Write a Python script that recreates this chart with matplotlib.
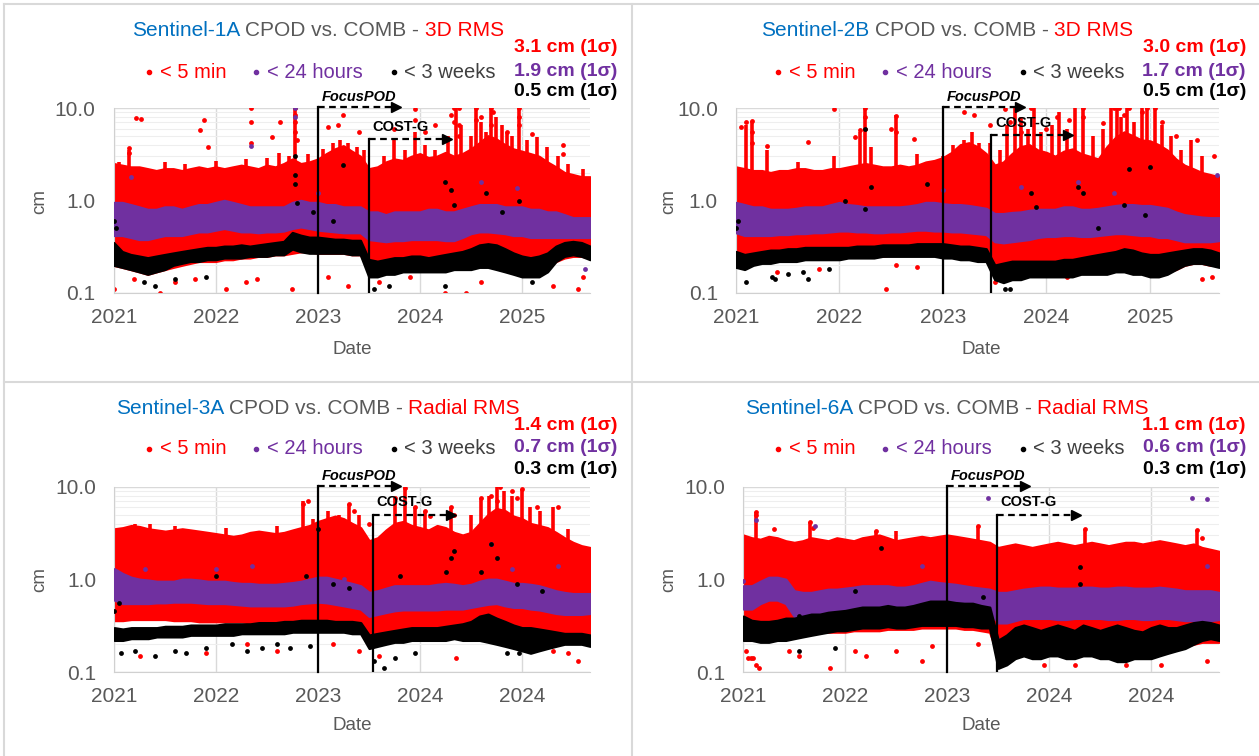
import numpy as np
import matplotlib.pyplot as plt
from matplotlib.lines import Line2D

plt.rcParams['font.family'] = ['Liberation Sans', 'DejaVu Sans']

W, H = 1259, 756
RED, PURPLE, BLACK = '#FF0000', '#7030A0', '#000000'
BLUE, GREY = '#0070C0', '#595959'

# monthly sample dates, Jan 2021 .. Sep 2025 (decimal years)
months = 2021 + np.arange(57) / 12

# ---------------- Sentinel-1A (3D RMS) ----------------
s1a_red_hi = [2.5, 2.4, 2.3, 2.3, 2.2, 2.1, 2.2, 2.2, 2.1, 2.2, 2.3, 2.2,
              2.3, 2.2, 2.3, 2.4, 2.3, 2.2, 2.4, 2.3, 2.5, 2.8, 2.5, 2.6,
              2.8, 3.2, 3.6, 3.9, 3.4, 3.0, 2.2, 2.3, 2.6, 2.8, 2.7, 3.0,
              3.2, 2.9, 3.0, 3.3, 3.0, 3.2, 3.6, 4.2, 5.0, 4.6, 4.0, 3.6,
              3.4, 3.2, 3.0, 2.6, 2.3, 2.0, 1.9, 1.8, 1.8]
s1a_red_lo = [0.20, 0.19, 0.18, 0.17, 0.16, 0.17, 0.18, 0.19, 0.20, 0.21, 0.22, 0.22,
              0.22, 0.23, 0.23, 0.24, 0.24, 0.25, 0.25, 0.26, 0.26, 0.27, 0.28, 0.28,
              0.27, 0.27, 0.27, 0.27, 0.26, 0.26, 0.18, 0.17, 0.17, 0.18, 0.18, 0.19,
              0.19, 0.19, 0.20, 0.20, 0.20, 0.20, 0.21, 0.21, 0.20, 0.20, 0.19, 0.18,
              0.17, 0.17, 0.18, 0.19, 0.22, 0.24, 0.25, 0.25, 0.24]
s1a_pur_hi = [0.95, 0.95, 0.90, 0.85, 0.80, 0.80, 0.85, 0.85, 0.80, 0.85, 0.90, 0.90,
              0.95, 1.00, 0.95, 0.90, 0.85, 0.85, 0.85, 0.85, 0.85, 0.95, 1.00, 0.95,
              0.95, 0.90, 0.90, 0.85, 0.85, 0.85, 0.75, 0.75, 0.70, 0.75, 0.75, 0.75,
              0.75, 0.80, 0.80, 0.75, 0.75, 0.80, 0.85, 0.90, 0.90, 0.90, 0.85, 0.85,
              0.85, 0.80, 0.80, 0.75, 0.75, 0.70, 0.65, 0.65, 0.65]
s1a_pur_lo = [0.42, 0.42, 0.40, 0.38, 0.38, 0.40, 0.42, 0.42, 0.42, 0.44, 0.46, 0.46,
              0.48, 0.50, 0.48, 0.46, 0.46, 0.45, 0.46, 0.46, 0.47, 0.50, 0.52, 0.50,
              0.48, 0.47, 0.46, 0.45, 0.45, 0.45, 0.38, 0.37, 0.36, 0.37, 0.37, 0.38,
              0.38, 0.38, 0.38, 0.37, 0.37, 0.40, 0.44, 0.46, 0.46, 0.45, 0.44, 0.42,
              0.42, 0.40, 0.40, 0.40, 0.40, 0.40, 0.40, 0.40, 0.40]
s1a_blk_hi = [0.35, 0.28, 0.26, 0.25, 0.24, 0.25, 0.26, 0.27, 0.28, 0.29, 0.30, 0.31,
              0.31, 0.32, 0.32, 0.33, 0.32, 0.33, 0.34, 0.35, 0.36, 0.45, 0.42, 0.40,
              0.40, 0.39, 0.38, 0.38, 0.37, 0.37, 0.23, 0.22, 0.23, 0.24, 0.24, 0.25,
              0.25, 0.24, 0.25, 0.26, 0.27, 0.28, 0.30, 0.33, 0.34, 0.33, 0.30, 0.27,
              0.25, 0.24, 0.25, 0.27, 0.32, 0.35, 0.36, 0.35, 0.32]
s1a_blk_lo = [0.20, 0.19, 0.18, 0.17, 0.16, 0.17, 0.18, 0.20, 0.21, 0.22, 0.22, 0.23,
              0.23, 0.24, 0.24, 0.24, 0.25, 0.25, 0.25, 0.26, 0.26, 0.30, 0.28, 0.27,
              0.27, 0.27, 0.27, 0.27, 0.26, 0.26, 0.15, 0.15, 0.16, 0.16, 0.17, 0.17,
              0.17, 0.17, 0.17, 0.17, 0.18, 0.18, 0.18, 0.19, 0.19, 0.18, 0.17, 0.16,
              0.15, 0.15, 0.15, 0.17, 0.22, 0.25, 0.26, 0.25, 0.23]
s1a_spike_x = [2021.05, 2021.15, 2021.50, 2021.70, 2022.00, 2022.30, 2022.50, 2022.62, 2022.72, 2022.78,
               2022.90, 2023.05, 2023.15, 2023.22, 2023.30, 2023.38, 2023.45, 2023.65, 2023.75, 2023.85,
               2023.95, 2024.05, 2024.15, 2024.28, 2024.35, 2024.40, 2024.50, 2024.55, 2024.60, 2024.65,
               2024.70, 2024.75, 2024.80, 2024.85, 2024.90, 2024.97, 2025.05, 2025.15, 2025.25, 2025.35,
               2025.45, 2025.60]
s1a_spike_y = [2.6, 3.5, 2.6, 2.5, 2.7, 2.8, 2.9, 3.3, 3.0, 10.0,
               3.2, 3.6, 4.2, 4.5, 4.2, 3.8, 3.5, 3.0, 4.5, 3.5,
               5.5, 4.0, 3.5, 5.0, 10.0, 6.5, 5.0, 10.0, 7.0, 5.5,
               10.0, 8.0, 6.5, 5.5, 5.0, 10.0, 4.5, 4.8, 3.8, 3.0,
               2.5, 2.2]
s1a_red_ox = [2021.22, 2021.27, 2021.15, 2021.15, 2021.85, 2021.88, 2021.92, 2022.35, 2022.35, 2022.35,
              2022.55, 2022.63, 2022.78, 2022.78, 2022.78, 2022.78, 2022.80, 2023.10, 2023.20, 2023.25,
              2023.40, 2023.75, 2023.95, 2023.95, 2024.05, 2024.15, 2024.30, 2024.33, 2024.33, 2024.38,
              2024.38, 2024.38, 2024.55, 2024.55, 2024.60, 2024.70, 2024.70, 2024.72, 2024.85, 2024.97,
              2024.97, 2024.97, 2025.10, 2025.40, 2025.40,
              2021.00, 2021.20, 2021.45, 2021.60, 2021.80, 2022.10, 2022.30, 2022.40, 2022.75, 2023.10,
              2023.30, 2023.60, 2023.90, 2024.25, 2024.45, 2024.60, 2025.30, 2025.55, 2025.60]
s1a_red_oy = [7.8, 7.6, 3.7, 3.3, 5.8, 7.4, 3.8, 10.0, 7.0, 4.2,
              4.8, 7.0, 10.0, 8.5, 7.0, 5.5, 4.5, 6.2, 6.5, 8.3,
              5.5, 6.0, 9.8, 7.5, 5.5, 6.5, 8.5, 10.0, 7.0, 10.0,
              6.5, 5.0, 10.0, 7.5, 8.0, 10.0, 6.5, 9.0, 5.5, 10.0,
              8.0, 6.5, 5.2, 4.0, 3.2,
              0.11, 0.14, 0.10, 0.13, 0.14, 0.11, 0.13, 0.14, 0.11, 0.15,
              0.12, 0.13, 0.15, 0.10, 0.10, 0.13, 0.12, 0.11, 0.15]
s1a_pur_ox = [2021.17, 2022.35, 2022.78, 2022.78, 2023.00, 2024.60, 2024.95, 2025.62]
s1a_pur_oy = [1.8, 3.9, 10.0, 8.0, 1.2, 1.6, 1.35, 0.18]
s1a_blk_ox = [2021.00, 2021.02, 2022.78, 2022.78, 2022.78, 2022.80, 2022.95, 2023.15, 2023.25, 2024.25,
              2024.30, 2024.33, 2024.65, 2024.80, 2024.97, 2021.30, 2021.40, 2021.60, 2021.90, 2023.55,
              2023.70, 2024.25, 2025.10]
s1a_blk_oy = [0.6, 0.5, 3.0, 1.9, 1.5, 0.95, 0.75, 0.6, 2.4, 1.6,
              1.3, 0.9, 1.2, 0.75, 1.0, 0.13, 0.12, 0.14, 0.15, 0.11,
              0.12, 0.12, 0.13]

# ---------------- Sentinel-2B (3D RMS) ----------------
s2b_red_hi = [2.3, 2.2, 2.1, 2.1, 2.0, 2.1, 2.1, 2.2, 2.2, 2.1, 2.1, 2.2,
              2.2, 2.3, 2.4, 2.5, 2.4, 2.3, 2.3, 2.4, 2.3, 2.4, 2.6, 2.7,
              2.9, 3.3, 4.0, 4.2, 3.8, 3.2, 2.4, 2.6, 3.2, 3.8, 4.0, 3.5,
              3.3, 3.0, 3.4, 3.6, 3.2, 3.0, 2.8, 3.8, 4.8, 5.5, 5.0, 4.5,
              4.4, 4.0, 3.5, 2.8, 2.4, 2.2, 2.0, 1.9, 1.8]
s2b_red_lo = [0.22, 0.22, 0.23, 0.23, 0.23, 0.24, 0.24, 0.24, 0.24, 0.24, 0.25, 0.25,
              0.25, 0.25, 0.25, 0.25, 0.25, 0.25, 0.26, 0.26, 0.26, 0.26, 0.26, 0.26,
              0.25, 0.25, 0.24, 0.24, 0.24, 0.23, 0.17, 0.16, 0.17, 0.17, 0.17, 0.17,
              0.17, 0.17, 0.17, 0.18, 0.18, 0.18, 0.18, 0.19, 0.19, 0.19, 0.18, 0.18,
              0.17, 0.17, 0.17, 0.18, 0.20, 0.21, 0.21, 0.20, 0.20]
s2b_pur_hi = [0.95, 0.90, 0.85, 0.85, 0.80, 0.80, 0.80, 0.82, 0.85, 0.85, 0.85, 0.90,
              0.95, 0.90, 0.88, 0.85, 0.85, 0.85, 0.85, 0.85, 0.87, 0.90, 0.95, 0.95,
              0.92, 0.90, 0.90, 0.88, 0.85, 0.82, 0.72, 0.72, 0.74, 0.75, 0.78, 0.80,
              0.80, 0.80, 0.85, 0.85, 0.80, 0.80, 0.82, 0.85, 0.88, 0.90, 0.90, 0.88,
              0.88, 0.85, 0.82, 0.75, 0.70, 0.68, 0.66, 0.65, 0.65]
s2b_pur_lo = [0.45, 0.42, 0.42, 0.42, 0.42, 0.43, 0.43, 0.44, 0.44, 0.45, 0.45, 0.46,
              0.47, 0.47, 0.46, 0.46, 0.45, 0.45, 0.46, 0.46, 0.47, 0.48, 0.48, 0.47,
              0.47, 0.46, 0.46, 0.45, 0.44, 0.43, 0.36, 0.35, 0.36, 0.37, 0.38, 0.40,
              0.41, 0.41, 0.42, 0.42, 0.41, 0.41, 0.42, 0.43, 0.44, 0.44, 0.43, 0.42,
              0.42, 0.40, 0.40, 0.38, 0.36, 0.36, 0.36, 0.36, 0.37]
s2b_blk_hi = [0.28, 0.26, 0.27, 0.28, 0.29, 0.29, 0.30, 0.30, 0.31, 0.31, 0.31, 0.31,
              0.31, 0.31, 0.32, 0.32, 0.32, 0.33, 0.33, 0.33, 0.33, 0.34, 0.34, 0.34,
              0.34, 0.33, 0.32, 0.32, 0.31, 0.30, 0.20, 0.21, 0.22, 0.22, 0.22, 0.22,
              0.22, 0.22, 0.23, 0.23, 0.24, 0.25, 0.26, 0.27, 0.28, 0.30, 0.29, 0.27,
              0.26, 0.26, 0.27, 0.28, 0.29, 0.30, 0.30, 0.29, 0.27]
s2b_blk_lo = [0.19, 0.18, 0.20, 0.21, 0.21, 0.22, 0.22, 0.22, 0.23, 0.23, 0.23, 0.23,
              0.23, 0.24, 0.24, 0.24, 0.24, 0.25, 0.25, 0.25, 0.25, 0.25, 0.25, 0.25,
              0.24, 0.24, 0.23, 0.23, 0.22, 0.22, 0.14, 0.13, 0.14, 0.14, 0.15, 0.15,
              0.15, 0.15, 0.15, 0.15, 0.16, 0.16, 0.16, 0.16, 0.17, 0.17, 0.16, 0.16,
              0.15, 0.15, 0.16, 0.18, 0.20, 0.21, 0.21, 0.20, 0.19]
s2b_spike_x = [2021.10, 2021.15, 2021.30, 2021.60, 2021.95, 2022.20, 2022.25, 2022.30, 2022.55, 2022.75,
               2023.00, 2023.10, 2023.20, 2023.28, 2023.35, 2023.45, 2023.55, 2023.62, 2023.70, 2023.75,
               2023.82, 2023.88, 2023.95, 2024.05, 2024.12, 2024.20, 2024.28, 2024.35, 2024.45, 2024.55,
               2024.62, 2024.68, 2024.72, 2024.78, 2024.85, 2024.92, 2024.97, 2025.05, 2025.12, 2025.20,
               2025.30, 2025.40, 2025.50]
s2b_spike_y = [6.5, 7.3, 3.5, 2.6, 3.0, 5.5, 10.0, 3.8, 8.5, 3.2,
               3.0, 4.0, 4.5, 5.5, 4.2, 4.2, 3.5, 6.5, 10.0, 8.0,
               6.0, 10.0, 5.5, 6.5, 9.0, 6.0, 10.0, 10.0, 5.0, 6.0,
               10.0, 10.0, 8.0, 10.0, 7.0, 10.0, 10.0, 10.0, 6.5, 5.0,
               3.5, 4.5, 3.0]
s2b_red_ox = [2021.05, 2021.10, 2021.15, 2021.15, 2021.15, 2021.30, 2021.70, 2021.95, 2022.15, 2022.20,
              2022.25, 2022.25, 2022.25, 2022.50, 2022.55, 2022.55, 2022.72, 2023.20, 2023.30, 2023.45,
              2023.60, 2023.65, 2023.75, 2023.85, 2024.00, 2024.10, 2024.22, 2024.35, 2024.35, 2024.55,
              2024.65, 2024.70, 2024.75, 2024.80, 2024.92, 2024.97, 2025.05, 2025.12, 2025.25, 2025.45,
              2025.62,
              2021.00, 2021.40, 2021.80, 2022.45, 2022.55, 2022.75, 2023.50, 2024.20, 2025.05, 2025.50,
              2025.60]
s2b_red_oy = [6.2, 7.0, 7.3, 5.5, 4.2, 3.9, 4.3, 9.8, 4.8, 5.8,
              10.0, 8.0, 6.0, 6.0, 8.2, 5.5, 4.6, 9.0, 8.5, 6.5,
              9.8, 7.0, 5.5, 10.0, 6.0, 8.0, 7.5, 10.0, 8.0, 6.8,
              10.0, 10.0, 8.5, 10.0, 9.0, 10.0, 10.0, 7.0, 5.0, 4.5,
              3.0,
              0.25, 0.17, 0.18, 0.11, 0.20, 0.19, 0.13, 0.15, 0.16, 0.14,
              0.15]
s2b_pur_ox = [2023.00, 2023.75, 2024.30, 2024.65, 2025.65]
s2b_pur_oy = [1.3, 1.4, 1.6, 1.2, 1.9]
s2b_blk_ox = [2021.00, 2021.02, 2021.10, 2021.35, 2021.38, 2021.50, 2021.65, 2021.70, 2021.90, 2022.05,
              2022.25, 2022.25, 2022.30, 2022.85, 2023.60, 2023.65, 2023.85, 2023.90, 2024.30, 2024.35,
              2024.50, 2024.75, 2024.80, 2024.95, 2025.00]
s2b_blk_oy = [0.5, 0.6, 0.13, 0.15, 0.14, 0.16, 0.17, 0.14, 0.18, 1.0,
              6.0, 0.8, 1.4, 1.5, 0.11, 0.11, 1.2, 0.85, 1.4, 1.2,
              0.5, 0.9, 2.2, 0.7, 2.3]

# ---------------- Sentinel-3A (Radial RMS) ----------------
s3a_red_hi = [3.5, 3.6, 3.8, 3.7, 3.5, 3.4, 3.3, 3.4, 3.5, 3.4, 3.3, 3.2,
              3.1, 3.0, 2.9, 3.0, 3.2, 3.3, 3.2, 3.1, 3.2, 3.4, 3.6, 3.8,
              4.2, 4.5, 4.8, 4.5, 4.0, 3.6, 2.6, 2.8, 3.4, 4.0, 4.2, 3.8,
              3.6, 3.4, 3.8, 3.6, 3.2, 3.0, 3.2, 4.0, 5.0, 5.8, 5.5, 4.8,
              4.5, 4.0, 3.8, 3.6, 3.2, 2.8, 2.5, 2.3, 2.2]
s3a_red_lo = [0.36, 0.36, 0.37, 0.37, 0.37, 0.37, 0.37, 0.36, 0.36, 0.36, 0.35, 0.35,
              0.35, 0.35, 0.35, 0.35, 0.34, 0.34, 0.34, 0.34, 0.33, 0.33, 0.33, 0.33,
              0.33, 0.32, 0.32, 0.32, 0.32, 0.32, 0.22, 0.22, 0.23, 0.24, 0.25, 0.25,
              0.26, 0.26, 0.26, 0.26, 0.26, 0.25, 0.25, 0.25, 0.26, 0.26, 0.25, 0.24,
              0.23, 0.22, 0.21, 0.20, 0.20, 0.21, 0.22, 0.22, 0.21]
s3a_pur_hi = [1.30, 1.15, 1.05, 1.00, 0.98, 0.95, 0.95, 0.95, 1.00, 1.00, 0.98, 0.95,
              0.95, 0.95, 0.92, 0.90, 0.90, 0.88, 0.88, 0.88, 0.90, 0.92, 0.95, 1.00,
              1.05, 1.05, 1.00, 0.95, 0.90, 0.85, 0.72, 0.75, 0.80, 0.85, 0.85, 0.85,
              0.85, 0.85, 0.88, 0.90, 0.88, 0.85, 0.88, 0.95, 1.00, 1.00, 0.95, 0.90,
              0.90, 0.88, 0.85, 0.80, 0.75, 0.72, 0.70, 0.70, 0.70]
s3a_pur_lo = [0.60, 0.55, 0.55, 0.55, 0.55, 0.56, 0.56, 0.57, 0.57, 0.57, 0.56, 0.55,
              0.55, 0.55, 0.54, 0.53, 0.52, 0.52, 0.52, 0.52, 0.52, 0.53, 0.55, 0.56,
              0.57, 0.56, 0.54, 0.52, 0.50, 0.48, 0.40, 0.42, 0.44, 0.46, 0.47, 0.47,
              0.47, 0.47, 0.47, 0.48, 0.48, 0.48, 0.50, 0.52, 0.54, 0.55, 0.52, 0.50,
              0.50, 0.48, 0.47, 0.45, 0.43, 0.42, 0.42, 0.42, 0.43]
s3a_blk_hi = [0.30, 0.29, 0.30, 0.30, 0.30, 0.30, 0.31, 0.31, 0.31, 0.32, 0.32, 0.32,
              0.32, 0.33, 0.33, 0.33, 0.33, 0.34, 0.34, 0.34, 0.35, 0.35, 0.36, 0.36,
              0.36, 0.36, 0.35, 0.35, 0.35, 0.34, 0.25, 0.26, 0.27, 0.28, 0.29, 0.30,
              0.30, 0.30, 0.30, 0.31, 0.32, 0.33, 0.35, 0.40, 0.42, 0.38, 0.35, 0.32,
              0.30, 0.30, 0.29, 0.28, 0.27, 0.26, 0.26, 0.26, 0.25]
s3a_blk_lo = [0.22, 0.22, 0.23, 0.23, 0.23, 0.24, 0.24, 0.24, 0.24, 0.25, 0.25, 0.25,
              0.25, 0.25, 0.25, 0.26, 0.26, 0.26, 0.26, 0.26, 0.26, 0.27, 0.27, 0.27,
              0.27, 0.27, 0.27, 0.27, 0.26, 0.26, 0.18, 0.19, 0.20, 0.21, 0.21, 0.22,
              0.22, 0.22, 0.22, 0.22, 0.23, 0.22, 0.22, 0.22, 0.21, 0.20, 0.19, 0.18,
              0.17, 0.16, 0.17, 0.18, 0.19, 0.20, 0.20, 0.20, 0.19]
s3a_spike_x = [2021.20, 2021.35, 2021.60, 2022.10, 2022.60, 2022.85, 2022.95, 2023.10, 2023.20, 2023.30,
               2023.40, 2023.75, 2023.85, 2023.95, 2024.05, 2024.30, 2024.50, 2024.60, 2024.68, 2024.75,
               2024.82, 2024.90, 2025.00, 2025.08, 2025.18, 2025.30, 2025.45]
s3a_spike_y = [4.0, 4.0, 3.8, 3.6, 3.8, 7.0, 4.5, 5.5, 5.0, 6.5,
               5.0, 7.5, 10.0, 6.0, 5.5, 6.0, 5.0, 7.5, 8.0, 10.0,
               9.0, 8.0, 9.5, 6.0, 5.5, 6.0, 3.5]
s3a_red_ox = [2022.85, 2022.90, 2023.00, 2023.30, 2023.35, 2023.50, 2023.75, 2023.85, 2023.95, 2024.05,
              2024.10, 2024.30, 2024.33, 2024.60, 2024.70, 2024.75, 2024.78, 2024.90, 2024.95, 2025.00,
              2025.15, 2025.35,
              2021.05, 2021.25, 2021.90, 2022.30, 2022.60, 2023.15, 2023.40, 2023.60, 2024.35, 2025.30,
              2025.45, 2025.55]
s3a_red_oy = [6.5, 7.0, 3.8, 6.5, 5.5, 4.0, 7.5, 9.8, 6.0, 5.5,
              4.8, 6.0, 5.0, 7.5, 8.0, 7.0, 10.0, 9.0, 7.5, 9.5,
              6.0, 6.0,
              0.5, 0.15, 0.16, 0.20, 0.17, 0.20, 0.17, 0.15, 0.14, 0.17,
              0.16, 0.13]
s3a_pur_ox = [2021.30, 2022.00, 2022.35, 2023.25, 2024.70, 2024.90, 2025.35]
s3a_pur_oy = [1.3, 1.3, 1.4, 1.0, 2.4, 1.3, 1.4]
s3a_blk_ox = [2021.00, 2021.05, 2021.07, 2021.20, 2021.40, 2021.60, 2021.70, 2021.90, 2022.00, 2022.15,
              2022.30, 2022.45, 2022.60, 2022.72, 2022.88, 2022.92, 2023.00, 2023.15, 2023.30, 2023.55,
              2023.65, 2023.75, 2023.80, 2023.95, 2024.25, 2024.30, 2024.33, 2024.60, 2024.70, 2024.75,
              2024.95, 2025.20, 2024.85, 2024.97]
s3a_blk_oy = [0.45, 0.55, 0.16, 0.17, 0.15, 0.17, 0.16, 0.18, 1.1, 0.20,
              0.17, 0.18, 0.20, 0.18, 1.1, 0.19, 3.5, 0.9, 0.8, 0.13,
              0.11, 0.14, 1.1, 0.16, 1.2, 1.7, 2.0, 1.2, 2.4, 1.7,
              0.9, 0.75, 0.16, 0.16]

# ---------------- Sentinel-6A (Radial RMS) ----------------
s6a_red_hi = [3.0, 2.8, 2.7, 2.9, 2.8, 2.6, 2.5, 2.6, 2.8, 2.7, 2.6, 2.8,
              2.7, 2.6, 2.8, 2.9, 3.0, 2.8, 2.6, 2.7, 2.8, 2.9, 2.8, 2.9,
              3.0, 2.9, 2.8, 2.7, 2.6, 2.5, 2.2, 2.3, 2.4, 2.3, 2.2, 2.3,
              2.4, 2.5, 2.4, 2.3, 2.4, 2.5, 2.4, 2.3, 2.4, 2.5, 2.5, 2.4,
              2.5, 2.6, 2.5, 2.4, 2.3, 2.4, 2.2, 2.1, 2.0]
s6a_red_lo = [0.22, 0.22, 0.23, 0.24, 0.25, 0.25, 0.26, 0.26, 0.26, 0.27, 0.27, 0.27,
              0.27, 0.28, 0.28, 0.28, 0.28, 0.29, 0.29, 0.29, 0.29, 0.30, 0.30, 0.30,
              0.30, 0.30, 0.29, 0.29, 0.28, 0.27, 0.15, 0.16, 0.17, 0.17, 0.17, 0.17,
              0.17, 0.17, 0.17, 0.17, 0.17, 0.17, 0.17, 0.17, 0.17, 0.17, 0.17, 0.17,
              0.17, 0.17, 0.18, 0.18, 0.19, 0.20, 0.21, 0.21, 0.21]
s6a_pur_hi = [0.85, 0.85, 0.95, 1.05, 1.05, 1.00, 0.75, 0.72, 0.72, 0.75, 0.78, 0.78,
              0.80, 0.82, 0.85, 0.85, 0.85, 0.85, 0.82, 0.82, 0.85, 0.90, 0.95, 0.92,
              0.90, 0.88, 0.85, 0.82, 0.80, 0.78, 0.72, 0.72, 0.75, 0.78, 0.80, 0.82,
              0.82, 0.80, 0.80, 0.80, 0.82, 0.82, 0.80, 0.80, 0.82, 0.82, 0.80, 0.80,
              0.80, 0.82, 0.80, 0.78, 0.75, 0.75, 0.75, 0.75, 0.72]
s6a_pur_lo = [0.48, 0.48, 0.55, 0.60, 0.60, 0.55, 0.40, 0.38, 0.38, 0.40, 0.42, 0.44,
              0.45, 0.46, 0.47, 0.48, 0.48, 0.48, 0.48, 0.48, 0.50, 0.52, 0.52, 0.50,
              0.50, 0.50, 0.48, 0.47, 0.46, 0.45, 0.34, 0.34, 0.36, 0.38, 0.38, 0.38,
              0.38, 0.37, 0.37, 0.38, 0.38, 0.38, 0.38, 0.37, 0.37, 0.38, 0.38, 0.37,
              0.37, 0.38, 0.38, 0.37, 0.36, 0.36, 0.36, 0.36, 0.37]
s6a_blk_hi = [0.40, 0.36, 0.35, 0.35, 0.36, 0.38, 0.38, 0.40, 0.42, 0.42, 0.44, 0.45,
              0.46, 0.48, 0.50, 0.50, 0.50, 0.52, 0.50, 0.50, 0.52, 0.55, 0.58, 0.58,
              0.58, 0.56, 0.55, 0.55, 0.52, 0.50, 0.22, 0.25, 0.30, 0.32, 0.30, 0.28,
              0.30, 0.32, 0.30, 0.28, 0.32, 0.30, 0.28, 0.30, 0.32, 0.30, 0.28, 0.27,
              0.30, 0.32, 0.30, 0.30, 0.32, 0.34, 0.35, 0.34, 0.32]
s6a_blk_lo = [0.22, 0.22, 0.21, 0.21, 0.22, 0.22, 0.23, 0.24, 0.25, 0.26, 0.27, 0.28,
              0.28, 0.29, 0.30, 0.30, 0.30, 0.31, 0.30, 0.30, 0.31, 0.32, 0.32, 0.32,
              0.32, 0.32, 0.31, 0.31, 0.30, 0.30, 0.11, 0.12, 0.14, 0.15, 0.14, 0.14,
              0.15, 0.15, 0.14, 0.14, 0.15, 0.15, 0.14, 0.14, 0.13, 0.13, 0.14, 0.14,
              0.14, 0.15, 0.16, 0.17, 0.18, 0.20, 0.22, 0.23, 0.22]
s6a_spike_x = [2021.12, 2021.65, 2022.30, 2022.50, 2023.30, 2024.35, 2025.45]
s6a_spike_y = [5.3, 4.2, 3.3, 3.3, 3.8, 3.5, 3.4]
s6a_red_ox = [2021.12, 2021.12, 2021.30, 2021.65, 2021.68, 2022.30, 2023.30, 2024.35, 2025.45, 2025.50,
              2021.03, 2021.05, 2021.08, 2021.10, 2021.12, 2021.15, 2021.45, 2021.55, 2021.85, 2022.10,
              2022.20, 2022.50, 2022.75, 2022.85, 2023.30, 2023.95, 2024.25, 2024.75, 2025.10, 2025.55]
s6a_red_oy = [5.3, 4.9, 3.5, 4.2, 3.6, 3.3, 3.8, 3.5, 3.4, 2.8,
              0.17, 0.14, 0.14, 0.14, 0.12, 0.11, 0.17, 0.15, 0.11, 0.17,
              0.15, 0.17, 0.13, 0.19, 0.20, 0.12, 0.12, 0.12, 0.12, 0.13]
s6a_pur_ox = [2021.12, 2021.70, 2023.40, 2025.40, 2025.55, 2021.00, 2022.75, 2023.50, 2025.55]
s6a_pur_oy = [4.4, 3.8, 7.6, 7.5, 7.4, 0.95, 1.4, 0.22, 1.4]
s6a_blk_ox = [2022.35, 2021.55, 2022.10, 2024.30, 2024.30, 2023.35, 2021.55, 2021.90]
s6a_blk_oy = [2.2, 0.4, 0.75, 1.35, 0.9, 0.65, 0.17, 0.18]

# panel titles, statistics and x tick labels
sats = ['Sentinel-1A', 'Sentinel-2B', 'Sentinel-3A', 'Sentinel-6A']
kinds = ['3D RMS', '3D RMS', 'Radial RMS', 'Radial RMS']
stats = [['3.1', '1.9', '0.5'], ['3.0', '1.7', '0.5'],
         ['1.4', '0.7', '0.3'], ['1.1', '0.6', '0.3']]
xlabels_top = ['2021', '2022', '2023', '2024', '2025']
xlabels_bot = ['2021', '2022', '2023', '2024', '2024']

series = [
    (s1a_red_lo, s1a_red_hi, s1a_red_ox, s1a_red_oy, s1a_pur_lo, s1a_pur_hi, s1a_pur_ox, s1a_pur_oy,
     s1a_blk_lo, s1a_blk_hi, s1a_blk_ox, s1a_blk_oy, s1a_spike_x, s1a_spike_y),
    (s2b_red_lo, s2b_red_hi, s2b_red_ox, s2b_red_oy, s2b_pur_lo, s2b_pur_hi, s2b_pur_ox, s2b_pur_oy,
     s2b_blk_lo, s2b_blk_hi, s2b_blk_ox, s2b_blk_oy, s2b_spike_x, s2b_spike_y),
    (s3a_red_lo, s3a_red_hi, s3a_red_ox, s3a_red_oy, s3a_pur_lo, s3a_pur_hi, s3a_pur_ox, s3a_pur_oy,
     s3a_blk_lo, s3a_blk_hi, s3a_blk_ox, s3a_blk_oy, s3a_spike_x, s3a_spike_y),
    (s6a_red_lo, s6a_red_hi, s6a_red_ox, s6a_red_oy, s6a_pur_lo, s6a_pur_hi, s6a_pur_ox, s6a_pur_oy,
     s6a_blk_lo, s6a_blk_hi, s6a_blk_ox, s6a_blk_oy, s6a_spike_x, s6a_spike_y),
]

# layout (pixels): axes boxes, text offsets, marker lines
ax_rects = [(113.7, 108, 590, 293), (736, 108, 1219, 293),
            (114.3, 486.7, 590, 672), (743.3, 486.7, 1219, 672)]
offsets = [(0, 0), (629, 0), (0, 377), (629, 377)]
# (FocusPOD tip, COST-G start, COST-G top, COST-G tip, COST-G label x, label y)
events = [(2023.81, 2023.50, 4.6, 2024.31, 2023.81, 6.2),
          (2023.78, 2023.46, 5.1, 2024.25, 2023.78, 6.8),
          (2023.80, 2023.54, 5.0, 2024.34, 2023.85, 6.9),
          (2023.80, 2023.49, 4.95, 2024.30, 2023.80, 6.9)]


def fx(x):
    return x / W


def fy(y):
    return 1 - y / H


fig = plt.figure(figsize=(W / 100, H / 100), dpi=100)
renderer = fig.canvas.get_renderer()


def text_width(s, **kw):
    t = fig.text(0, 0, s + '|', **kw)
    b = fig.text(0, 0, '|', **kw)
    w = t.get_window_extent(renderer).width - b.get_window_extent(renderer).width
    t.remove()
    b.remove()
    return w


def rich_title(cx, y, pieces, size):
    full = ' '.join(p for p, _ in pieces)
    x0 = cx - text_width(full, fontsize=size) / 2
    prefix = ''
    for p, c in pieces:
        off = text_width(prefix, fontsize=size) if prefix else 0
        fig.text(fx(x0 + off), fy(y), p, color=c, fontsize=size, ha='left', va='center')
        prefix += p + ' '


for i in range(4):
    l, t, r, b = ax_rects[i]
    ax = fig.add_axes([fx(l), fy(b), fx(r - l), (b - t) / H])
    (rlo, rhi, rox, roy, plo, phi, pox, poy, blo, bhi, box, boy, spx, spy) = series[i]

    # dense clouds of daily points drawn as bands, plus spikes and stray points
    ax.fill_between(months, rlo, rhi, color=RED, lw=1.8, zorder=2)
    ax.vlines(spx, 1.0, spy, color=RED, lw=2.6, zorder=2)
    ax.scatter(rox, roy, s=12, color=RED, lw=0, zorder=2)
    ax.fill_between(months, plo, phi, color=PURPLE, lw=1.8, zorder=3)
    ax.scatter(pox, poy, s=12, color=PURPLE, lw=0, zorder=3)
    ax.fill_between(months, blo, bhi, color=BLACK, lw=1.8, zorder=4)
    ax.scatter(box, boy, s=12, color=BLACK, lw=0, zorder=4)

    ax.set_yscale('log')
    ax.set_ylim(0.1, 10)
    ax.set_xlim(2021, months[-1])
    ax.set_yticks([0.1, 1, 10])
    ax.set_yticklabels(['0.1', '1.0', '10.0'])
    ax.set_yticks([v * d for d in (0.1, 1) for v in range(2, 10)], minor=True)
    ax.yaxis.set_minor_formatter(plt.NullFormatter())
    ax.set_xticks([2021, 2022, 2023, 2024, 2025])
    ax.set_xticklabels(xlabels_top if i < 2 else xlabels_bot)
    ax.tick_params(which='both', length=0, labelsize=15, labelcolor=GREY)
    ax.tick_params(axis='x', pad=11)
    ax.tick_params(axis='y', pad=13)
    ax.grid(True, which='major', color='#d9d9d9', lw=1, zorder=0)
    ax.grid(True, which='minor', axis='y', color='#eeeeee', lw=0.8, zorder=0)
    ax.set_axisbelow(True)
    for s in ('top', 'right'):
        ax.spines[s].set_visible(False)
    for s in ('left', 'bottom'):
        ax.spines[s].set_color('#d0d0d0')

    # FocusPOD / COST-G markers
    fp_tip, cg_x, cg_top, cg_tip, cg_lx, cg_ly = events[i]
    ytop = 10.2
    ax.plot([2023.0, 2023.0], [0.1, ytop], color='k', lw=1.6, zorder=6, clip_on=False)
    ax.plot([2023.0, fp_tip - 0.05], [ytop, ytop], color='k', lw=1.6, dashes=(3, 2),
            zorder=6, clip_on=False)
    ax.plot(fp_tip - 0.04, ytop, marker='>', ms=7, color='k', zorder=6, clip_on=False)
    ax.plot([cg_x, cg_x], [0.1, cg_top], color='k', lw=1.6, zorder=6)
    ax.plot([cg_x, cg_tip - 0.05], [cg_top, cg_top], color='k', lw=1.6, dashes=(3, 2), zorder=6)
    ax.plot(cg_tip - 0.04, cg_top, marker='>', ms=7, color='k', zorder=6, clip_on=False)
    ax.annotate('FocusPOD', xy=(2023.4, 1.0), xycoords=('data', 'axes fraction'),
                xytext=(0, 3), textcoords='offset points', ha='center', va='bottom',
                fontsize=10.5, fontweight='bold', fontstyle='italic')
    ax.text(cg_lx, cg_ly, 'COST-G', ha='center', va='center', fontsize=10.5,
            fontweight='bold', zorder=7)

    # texts around the panel
    dx, dy = offsets[i]
    rich_title(318 + dx, 31 + dy, [(sats[i], BLUE), ('CPOD vs. COMB -', GREY), (kinds[i], RED)], 15)
    for lx, tx, lab, c, tc in [(149, 160, '< 5 min', RED, RED),
                               (256, 267, '< 24 hours', PURPLE, PURPLE),
                               (394, 404, '< 3 weeks', BLACK, '#404040')]:
        fig.add_artist(Line2D([fx(lx + dx)], [fy(72 + dy)], marker='o', ms=3, color=c, lw=0))
        fig.text(fx(tx + dx), fy(72 + dy), lab, color=tc, fontsize=14.5, ha='left', va='center')
    for k, (yy, c) in enumerate([(48, RED), (71, PURPLE), (92, BLACK)]):
        fig.text(fx(617 + dx), fy(yy + dy), stats[i][k] + ' cm (1σ)', color=c, fontsize=14,
                 fontweight='bold', ha='right', va='center')
    fig.text(fx(40 + dx), fy(202 + dy), 'cm', rotation=90, color=GREY, fontsize=13.5,
             ha='center', va='center')
    fig.text(fx(352 + dx), fy(349 + dy), 'Date', color=GREY, fontsize=13.5, ha='center', va='center')

# light panel separators
for xs, ys in [([3.5, 3.5], [4, 756]), ([3.5, 1259], [4, 4]),
               ([632, 632], [4, 756]), ([3.5, 1259], [382, 382])]:
    fig.add_artist(Line2D([fx(v) for v in xs], [fy(v) for v in ys], color='#d9d9d9', lw=1.5))

fig.savefig('out.png', dpi=100)
